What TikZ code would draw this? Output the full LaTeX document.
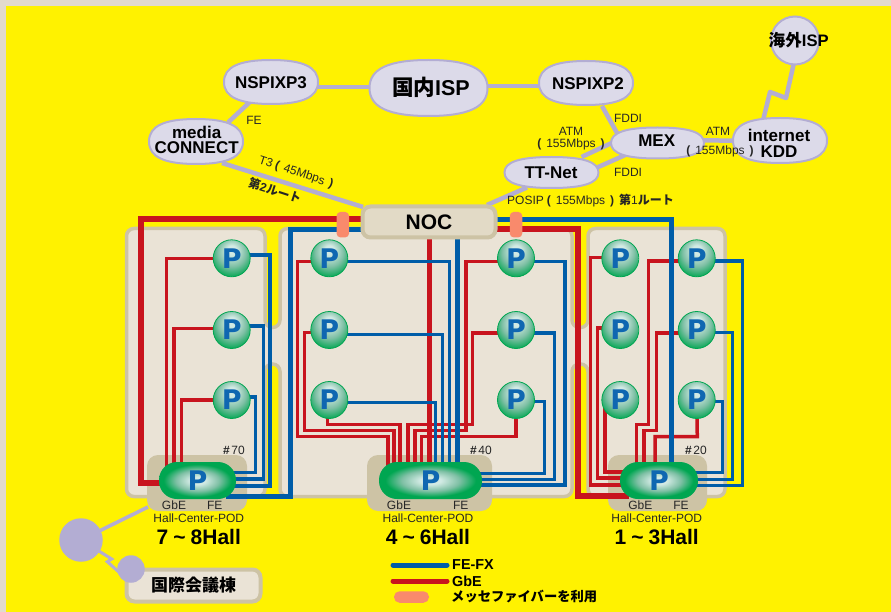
\documentclass[tikz,border=0pt]{standalone}
\usepackage{fontspec}
\setmainfont{Liberation Sans}
\newfontfamily\cjk{Noto Sans CJK JP}
\newfontfamily\pfont{DejaVu Sans}
\usetikzlibrary{shapes.geometric,calc}
\definecolor{pagebg}{HTML}{E2DACC}
\definecolor{yel}{HTML}{FFF200}
\definecolor{tan}{HTML}{CDC3A5}
\definecolor{panel}{HTML}{EAE3D6}
\definecolor{nocfill}{HTML}{E2DAC6}
\definecolor{lil}{HTML}{B3ADD3}
\definecolor{lilfill}{HTML}{DCDAE9}
\definecolor{wred}{HTML}{C8141E}
\definecolor{wblue}{HTML}{005DA8}
\definecolor{pblue}{HTML}{0F67B1}
\definecolor{pink}{HTML}{F98A6C}
\definecolor{grn}{HTML}{00A651}
\definecolor{lightg}{HTML}{D2EAE4}
\definecolor{midg}{HTML}{7FC0A5}
\pgfdeclareradialshading{ballsh}{\pgfpoint{0bp}{13bp}}{color(0bp)=(lightg); color(6bp)=(lightg); color(19bp)=(midg); color(31bp)=(grn); color(50bp)=(grn)}
\pgfdeclareradialshading{pillsh}{\pgfpointorigin}{color(0bp)=(lightg); color(5bp)=(lightg); color(14bp)=(midg); color(22bp)=(grn); color(50bp)=(grn)}
\pgfdeclarelayer{under}
\pgfdeclarelayer{links}
\pgfsetlayers{under,links,main}
\newcommand{\fs}[1]{\fontsize{#1}{#1}\selectfont}
\newcommand{\pp}[1]{{\bfseries(}\hspace{5pt}#1\hspace{5pt}{\bfseries)}}
\newcommand{\hl}[2]{#1\hspace{5pt}\textasciitilde\hspace{5pt}#2Hall}
% name, x, y, width, height
\newcommand{\ispshape}[5]{%
  \begin{scope}[shift={(#2,#3)},xscale=#4/2,yscale=#5/2]
  \draw[draw=lil,fill=lilfill,line width=2pt] (-1,0) .. controls (-1,-.68) and (-.68,-1) .. (0,-1) .. controls (.68,-1) and (1,-.68) .. (1,0) .. controls (1,.68) and (.68,1) .. (0,1) .. controls (-.68,1) and (-1,.68) .. (-1,0) -- cycle;
  \end{scope}
  \node[inner sep=0pt,outer sep=0pt,minimum size=0pt] (#1) at (#2,#3) {};
}
\tikzset{
  isptext/.style={inner sep=0pt,align=center,font=\bfseries\fs{17}},
  link/.style={draw=lil,line width=4.5pt},
  thinlink/.style={draw=lil,line width=3pt},
  rw/.style={draw=wred,line width=3.5pt},
  bw/.style={draw=wblue,line width=3.3pt},
  rwt/.style={draw=wred,line width=6pt},
  bwt/.style={draw=wblue,line width=5pt},
  ball/.style={circle,minimum size=37pt,inner sep=0pt,outer sep=0pt,draw=grn,line width=0.8pt,shading=ballsh,text=pblue,font=\pfont\bfseries\fs{27}},
  pill/.style={rounded corners=18pt,shading=pillsh,draw=none,minimum height=37pt,inner sep=0pt,outer sep=0pt,text=pblue,font=\pfont\bfseries\fs{27}},
  podbg/.style={rounded corners=11pt,fill=tan,draw=none,minimum height=56pt,inner sep=0pt},
  lbl/.style={font=\fs{12},inner sep=0pt,text=black!85},
  hall/.style={font=\bfseries\fs{21},inner sep=0pt},
  boxn/.style={rounded corners=8pt,draw=tan,line width=4pt,inner sep=0pt,font=\bfseries},
  pinkbar/.style={rounded corners=4pt,fill=pink,draw=none,inner sep=0pt},
  leg/.style={font=\bfseries\fs{14.4},inner sep=0pt,anchor=west}
}
\begin{document}
\begin{tikzpicture}[x=1pt,y=-1pt]
\useasboundingbox (0,0) rectangle (891,612);
\begin{pgfonlayer}{under}
\fill[pagebg] (0,0) rectangle (891,612);
\fill[yel] (6,6) rectangle (891,612);
\draw[tan,fill=panel,line width=3.5pt,rounded corners=7.5pt]
 (126.5,228.5)--(265,228.5)--(265,327.5)--(280,327.5)--(280,228.5)--(572,228.5)--(572,327.5)--(588,327.5)--(588,228.5)--(725,228.5)--(725,496.5)--(588,496.5)--(588,364)--(572,364)--(572,496.5)--(280,496.5)--(280,364)--(265,364)--(265,496.5)--(126.5,496.5)--cycle;
\node[podbg,minimum width=100pt] (bg1) at (197,483) {};
\node[podbg,minimum width=125pt] (bg2) at (429.5,483) {};
\node[podbg,minimum width=99pt] (bg3) at (657.5,483) {};
\end{pgfonlayer}

% ISP nodes
\ispshape{isp}{428.5}{88}{118}{56}
\ispshape{n3}{271}{82}{94}{44}
\ispshape{mc}{196}{141.5}{94}{45}
\ispshape{n2}{586}{83}{94}{44}
\ispshape{mex}{657.5}{143}{93}{31}
\ispshape{tt}{551.5}{172.5}{94}{31}
\ispshape{kdd}{780}{140.5}{94}{45}
\node[circle,draw=lil,fill=lilfill,line width=2pt,minimum size=48pt,inner sep=0pt] (ovs) at (795,40.5) {};
\node[isptext,font=\bfseries\fs{21.5}] (ispt) at (431,87.7) {{\cjk 国内}ISP};
\node[isptext] (n3t) at (271,83) {NSPIXP3};
\node[isptext] (mct) at (196.7,140.2) {media\\[-2pt]CONNECT};
\node[isptext] (n2t) at (588,84) {NSPIXP2};
\node[isptext] (mext) at (656.7,141) {MEX};
\node[isptext] (ttt) at (551,173) {TT-Net};
\node[isptext] (kddt) at (779,143) {internet\\[-1.3pt]KDD};
\node[isptext,font=\bfseries\fs{16.6}] (ovst) at (798.7,40) {{\cjk 海外}ISP};

% NOC
\node[boxn,fill=nocfill,minimum width=133pt,minimum height=31pt,font=\bfseries\fs{21}] (noc) at (429,222) {NOC};

% balls
\foreach \n/\x in {a/231.7,b/329.3,c/516,d/620.3,e/696.7}{
  \node[ball] (\n1) at (\x,258.3) {P};
  \node[ball] (\n2) at (\x,330) {P};
  \node[ball] (\n3) at (\x,400) {P};
}
% pods
\node[pill,minimum width=77pt] (pod1) at (197.5,480.5) {P};
\node[pill,minimum width=103pt] (pod2) at (430.5,480.5) {P};
\node[pill,minimum width=78pt] (pod3) at (659,480.5) {P};

\begin{pgfonlayer}{links}
% upper links
\draw[link] ([yshift=-5pt]n3.center) -- ([yshift=1pt]isp.center);
\draw[link] ([yshift=2pt]isp.center) -- ([yshift=-3pt]n2.center);
\draw[link] ([xshift=-19pt,yshift=-18pt]n3.center) -- ([xshift=32pt,yshift=19pt]mc.center);
\draw[link] ([xshift=26pt,yshift=-21.5pt]mc.center) -- ([xshift=-66pt,yshift=15pt]noc.center);
\draw[link] ([xshift=16pt,yshift=-23pt]n2.center) -- ([xshift=-40.5pt,yshift=10pt]mex.center);
\draw[link] ([xshift=-20pt,yshift=12pt]mex.center) -- ([xshift=30pt,yshift=15.5pt]tt.center);
\draw[link] ([xshift=-20pt,yshift=-6.5pt]mex.center) -- ([xshift=30pt,yshift=-2pt]tt.center);
\draw[link] ([yshift=3pt]mex.center) -- ([yshift=-0.5pt]kdd.center);
\draw[link,line join=round] ([xshift=-17pt,yshift=20pt]kdd.center) -- (770,92) -- (786,98) -- ([xshift=-1pt,yshift=-22pt]ovs.center);
\draw[link] ([xshift=-24.5pt,yshift=-15pt]tt.center) -- ([xshift=58pt,yshift=17pt]noc.center);

% red wires first: the blue ones cross over them
\draw[rwt] (noc.center |- 0,219.5) -- (141,219.5) -- (141,482.7) -- (pod1.center |- 0,482.7);
\draw[rwt] (noc.center |- 0,229.3) -- (578.3,229.3) -- (578.3,495.7) -- (629,495.7);
\draw[rwt,line width=5.5pt] (429.3,230) -- (429.3,470);
% hall 7-8
\draw[rw] (a1) -- (166.7,258.3) -- (166.7,470);
\draw[rw] (a2.center |- 0,328.5) -- (174,328.5) -- (174,470);
\draw[rw] (a3.center |- 0,400) -- (181.7,400) -- (181.7,470);
% hall 4-6
\draw[rw] (b1.center |- 0,261.3) -- (297.7,261.3) -- (297.7,436.7) -- (388,436.7) -- (388,470);
\draw[rw] (b2.center |- 0,332.7) -- (304.3,332.7) -- (304.3,430.4) -- (394,430.4) -- (394,470);
\draw[rw] (b3.center -| 327.3,0) -- (327.3,424.3) -- (400,424.3) -- (400,470);
\draw[rw] (c1.center |- 0,261.3) -- (466,261.3) -- (466,430.4) -- (415,430.4) -- (415,470);
\draw[rw] (c2.center |- 0,333) -- (472.7,333) -- (472.7,424.3) -- (408,424.3) -- (408,470);
\draw[rw] (c3) -- (516,436.7) -- (421.7,436.7) -- (421.7,470);
% hall 1-3
\draw[rw] (d1.center |- 0,257.3) -- (590.5,257.3) -- (590.5,485) -- (pod3.center |- 0,485);
\draw[rw] (d2.center |- 0,328) -- (597.5,328) -- (597.5,478) -- (pod3.center |- 0,478);
\draw[rw] (d3.center -| 605,0) -- (605,472) -- (pod3.center |- 0,472);
\draw[rw] (e1.center |- 0,261) -- (648.3,261) -- (648.3,424.3) -- (636.7,424.3) -- (636.7,470);
\draw[rw] (e2.center |- 0,333) -- (656.7,333) -- (656.7,430.4) -- (644,430.4) -- (644,470);
\draw[rw] (e3) -- (697.3,436.7) -- (655,436.7) -- (655,470);

% blue wires
\draw[bwt] (noc.center |- 0,230) -- (290.7,230) -- (290.7,496.7) -- (226,496.7);
\draw[bwt] (noc.center |- 0,220) -- (671.7,220) -- (671.7,470);
\draw[bwt] (457.2,230) -- (457.2,470);
\draw[bw] (a1.center |- 0,255) -- (270,255) -- (270,486) -- (pod1.center |- 0,486);
\draw[bw] (a2.center |- 0,326) -- (263.3,326) -- (263.3,479) -- (pod1.center |- 0,479);
\draw[bw] (a3.center |- 0,397) -- (255.7,397) -- (255.7,472.7) -- (pod1.center |- 0,472.7);
\draw[bw] (b1.center |- 0,261.3) -- (449.7,261.3) -- (449.7,470);
\draw[bw] (b2.center |- 0,334.3) -- (442.4,334.3) -- (442.4,470);
\draw[bw] (b3.center |- 0,402.7) -- (435.8,402.7) -- (435.8,470);
\draw[bw] (c1.center |- 0,261.3) -- (565,261.3) -- (565,485) -- (pod2.center |- 0,485);
\draw[bw] (c2.center |- 0,333) -- (554.7,333) -- (554.7,479.3) -- (pod2.center |- 0,479.3);
\draw[bw] (c3.center |- 0,401.7) -- (544.7,401.7) -- (544.7,473.3) -- (pod2.center |- 0,473.3);
\draw[bw] (e1.center |- 0,261) -- (742.7,261) -- (742.7,485.3) -- (pod3.center |- 0,485.3);
\draw[bw] (e2.center |- 0,332.7) -- (732.7,332.7) -- (732.7,479.3) -- (pod3.center |- 0,479.3);
\draw[bw] (e3.center |- 0,401.7) -- (722.7,401.7) -- (722.7,472.7) -- (pod3.center |- 0,472.7);
\end{pgfonlayer}

% pink connectors
\node[pinkbar,minimum width=12.5pt,minimum height=25.5pt] (m1) at (342.8,224.7) {};
\node[pinkbar,minimum width=12.5pt,minimum height=25.5pt] (m2) at (516,224.7) {};

% labels, upper
\node[lbl] (l1) at (254,120) {FE};
\node[lbl,rotate=-18] (l2) at (296,172.7) {T3\hspace{3pt}\pp{45Mbps}};
\node[lbl,rotate=-18,font=\bfseries\fs{12}] (l3) at (275,190.7) {{\cjk 第}2{\cjk ルート}};
\node[lbl] (l4) at (628,118) {FDDI};
\node[lbl] (l5) at (628,172) {FDDI};
\node[lbl] (l6) at (571,131) {ATM};
\node[lbl] (l7) at (571,144) {\pp{155Mbps}};
\node[lbl] (l8) at (718,131) {ATM};
\node[lbl] (l9) at (720,151) {\pp{155Mbps}};
\node[lbl,anchor=west] (l10) at (507,200.7) {POSIP\hspace{3pt}\pp{155Mbps}\hspace{5pt}{\bfseries\cjk 第}1{\bfseries\cjk ルート}};

% pod labels
\foreach \id/\g/\f/\h/\num/\nx/\ha/\hb in {1/174/214.7/198.8/70/234/7/8,2/399/460.7/428/40/481/4/6,3/640.3/681/656.7/20/696/1/3}{
  \node[lbl] (g\id) at (\g,505.7) {GbE};
  \node[lbl] (f\id) at (\f,505.7) {FE};
  \node[lbl] (h\id) at (\h,518.7) {Hall-Center-POD};
  \node[hall] (t\id) at (\h,537) {\hl{\ha}{\hb}};
  \node[lbl] (k\id) at (\nx,450) {{\bfseries\#}\hspace{1.5pt}\num};
}

% international building
\node[boxn,fill=panel,minimum width=134pt,minimum height=32pt,font=\bfseries\fs{17}] (kk) at (193.5,585.5) {\cjk 国際会議棟};
\node[circle,fill=lil,minimum size=43.5pt,inner sep=0pt] (hub) at (81,540) {};
\node[circle,fill=lil,minimum size=27.5pt,inner sep=0pt] (hub2) at (131,569) {};
\begin{pgfonlayer}{links}
\draw[thinlink,line width=3.6pt] (hub.center) -- ([xshift=-49pt,yshift=-24pt]bg1.center);
\draw[thinlink] (hub.center) -- (111.7,559) -- (107.3,561.7) -- ([xshift=-10pt,yshift=-5pt]hub2.center);
\end{pgfonlayer}

% legend
\coordinate (la) at (393,565); \coordinate (lb) at (447,565);
\coordinate (lc) at (393,581); \coordinate (ld) at (447,581);
\draw[bwt,line cap=round] (la) -- (lb);
\draw[rwt,line width=5pt,line cap=round] (lc) -- (ld);
\node[pinkbar,rounded corners=5.5pt,minimum width=35pt,minimum height=11.5pt] (lp) at (411.5,597) {};
\node[leg] (t1) at (452,565) {FE-FX};
\node[leg] (t2) at (452,581) {GbE};
\node[leg,font=\bfseries\fs{13.3}] (t3) at (451,597) {\cjk メッセファイバーを利用};
\end{tikzpicture}
\end{document}
